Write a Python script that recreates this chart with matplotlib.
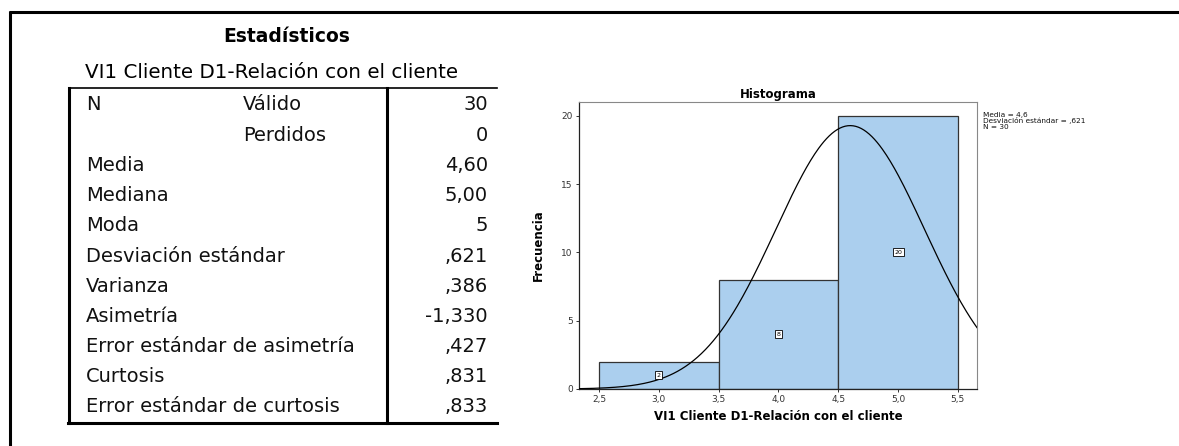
import numpy as np
import matplotlib
matplotlib.use("Agg")
import matplotlib.pyplot as plt

plt.rcParams['font.family'] = ['DejaVu Sans']

# Tabla de estadísticos
titulo = "Estadísticos"
variable = "VI1 Cliente D1-Relación con el cliente"
etiquetas = ["N", "", "Media", "Mediana", "Moda", "Desviación estándar",
             "Varianza", "Asimetría", "Error estándar de asimetría",
             "Curtosis", "Error estándar de curtosis"]
sub_etiquetas = ["Válido", "Perdidos", "", "", "", "", "", "", "", "", ""]
valores = ["30", "0", "4,60", "5,00", "5", ",621", ",386", "-1,330",
           ",427", ",831", ",833"]

# Histograma
centros = [3.0, 4.0, 5.0]
frecuencias = [2, 8, 20]
ancho_bin = 1.0
media = 4.6
desv = 0.621
n_total = 30
xticks = [2.5, 3.0, 3.5, 4.0, 4.5, 5.0, 5.5]
yticks = [0, 5, 10, 15, 20]

W, H = 1179, 446
fig = plt.figure(figsize=(W / 100, H / 100), dpi=100)

# capa de fondo en coordenadas de pixel
bg = fig.add_axes([0, 0, 1, 1])
bg.set_xlim(0, W)
bg.set_ylim(H, 0)
bg.axis('off')

# marco exterior (izquierda y arriba)
bg.plot([10, 10], [11, H], color='black', lw=2.2, solid_capstyle='butt')
bg.plot([9, W], [11.5, 11.5], color='black', lw=2.2, solid_capstyle='butt')

bg.text(287, 36, titulo, ha='center', va='center', fontsize=13.5,
        fontweight='bold')
bg.text(85, 72, variable, ha='left', va='center', fontsize=14.3)

# bordes de la tabla
t_top, t_bot, t_left, t_div, t_right = 88, 423, 69, 387, 497
bg.plot([t_left, t_right], [t_top, t_top], color='black', lw=1.2)
bg.plot([t_left, t_left], [t_top, t_bot], color='black', lw=2.2)
bg.plot([t_div, t_div], [t_top, t_bot], color='black', lw=2.2)
bg.plot([t_left - 1, t_right], [t_bot, t_bot], color='black', lw=2.2)

fila0, paso = 105, 30.2
for i, (et, sub, val) in enumerate(zip(etiquetas, sub_etiquetas, valores)):
    y = fila0 + i * paso
    bg.text(86, y, et, ha='left', va='center', fontsize=14, color='#111111')
    if sub:
        bg.text(243, y, sub, ha='left', va='center', fontsize=14,
                color='#111111')
    bg.text(488, y, val, ha='right', va='center', fontsize=14,
            color='#111111')

# histograma
ax_l, ax_r, ax_t, ax_b = 579, 977, 102, 389
ax = fig.add_axes([ax_l / W, 1 - ax_b / H, (ax_r - ax_l) / W,
                   (ax_b - ax_t) / H])
ax.bar(centros, frecuencias, width=ancho_bin, color='#abcfee',
       edgecolor='#333333', linewidth=0.9, zorder=2)

xs = np.linspace(2.333, 5.66, 300)
curva = n_total * ancho_bin * np.exp(-0.5 * ((xs - media) / desv) ** 2) / (
    desv * np.sqrt(2 * np.pi))
ax.plot(xs, curva, color='black', lw=0.9, zorder=3)

for c, f in zip(centros, frecuencias):
    ax.text(c, f / 2, str(f), ha='center', va='center', fontsize=4.5,
            zorder=4,
            bbox=dict(boxstyle='square,pad=0.25', fc='white', ec='black',
                      lw=0.6))

ax.set_xlim(2.333, 5.66)
ax.set_ylim(0, 21)
ax.set_xticks(xticks)
ax.set_xticklabels([f"{v:.1f}".replace('.', ',') for v in xticks])
ax.set_yticks(yticks)
ax.tick_params(labelsize=6.5, labelcolor='#333333', length=2.5, width=0.7,
               color='#333333', pad=2)
for s in ['top', 'right']:
    ax.spines[s].set_color('#888888')
    ax.spines[s].set_linewidth(0.8)
for s in ['left', 'bottom']:
    ax.spines[s].set_color('#222222')
    ax.spines[s].set_linewidth(0.9)

ax.set_title("Histograma", fontsize=8.5, fontweight='bold', pad=3)
ax.set_xlabel(variable, fontsize=8.5, fontweight='bold', labelpad=4)
ax.set_ylabel("Frecuencia", fontsize=8.5, fontweight='bold', labelpad=12,
              family=['Liberation Sans Narrow', 'DejaVu Sans'])

bg.text(983, 121, "Media = 4,6\nDesviación estándar = ,621\nN = 30",
        ha='left', va='center', fontsize=5.3, linespacing=0.85,
        color='#111111')

fig.savefig("out.png", dpi=100)
